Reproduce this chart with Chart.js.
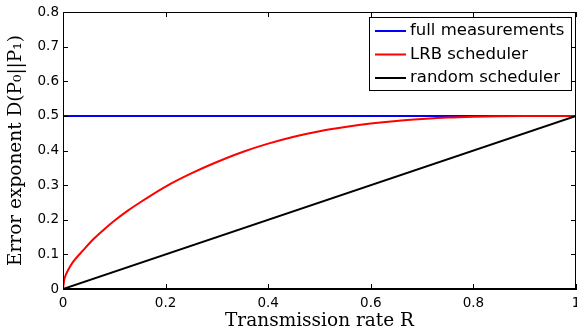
<!DOCTYPE html>
<html>
<head>
<meta charset="utf-8">
<script src="https://cdn.jsdelivr.net/npm/chart.js@4.4.1/dist/chart.umd.min.js"></script>
<style>
html,body{margin:0;padding:0;background:#fff;overflow:hidden;}
#wrap{width:600px;height:335px;}
</style>
</head>
<body>
<div id="wrap"><canvas id="c" width="600" height="335"></canvas></div>
<script>
// ---- data ----
const seriesNames = ['full measurements', 'LRB scheduler', 'random scheduler'];
const seriesColors = ['#0000ff', '#ff0000', '#000000'];

const fullR = [0, 1];
const fullD = [0.5, 0.5];

const lrbR = [0, 0.0025, 0.005, 0.01, 0.02, 0.04, 0.06, 0.08, 0.1, 0.125, 0.15, 0.2, 0.25, 0.3, 0.35, 0.4, 0.45, 0.5, 0.55, 0.6, 0.65, 0.7, 0.75, 0.8, 0.85, 0.9, 1.0];
const lrbD = [0, 0.027, 0.039, 0.055, 0.079, 0.113, 0.145, 0.172, 0.197, 0.225, 0.25, 0.296, 0.334, 0.367, 0.396, 0.42, 0.44, 0.456, 0.468, 0.478, 0.4855, 0.491, 0.4955, 0.498, 0.4993, 0.5, 0.5];

const randR = [0, 1];
const randD = [0, 0.5];

const xTicks = [0, 0.2, 0.4, 0.6, 0.8, 1];
const yTicks = [0, 0.1, 0.2, 0.3, 0.4, 0.5, 0.6, 0.7, 0.8];

const xTitle = 'Transmission rate R';
const yTitle = 'Error exponent D(P\u2080||P\u2081)';

function pts(xs, ys){ return xs.map((x,i)=>({x:x, y:ys[i]})); }

const tickFont = {family:'DejaVu Sans', size:13.5, lineHeight:1.2};
const titleFont = {family:'DejaVu Serif', size:18.5, lineHeight:1.2};

const boxPlugin = {
  id:'boxPlugin',
  afterDraw(chart){
    const ctx = chart.ctx;
    const a = chart.chartArea;
    const xs = chart.scales.x, ys = chart.scales.y;
    ctx.save();
    ctx.strokeStyle = '#000';
    ctx.lineWidth = 1;
    // box
    ctx.strokeRect(Math.round(a.left)+0.5, Math.round(a.top)+0.5, Math.round(a.right-a.left)-1, Math.round(a.bottom-a.top)-1);
    // inner ticks
    const tl = 5;
    ctx.beginPath();
    xTicks.forEach(v=>{
      const px = Math.round(xs.getPixelForValue(v))+0.5;
      ctx.moveTo(px, a.bottom); ctx.lineTo(px, a.bottom-tl);
      ctx.moveTo(px, a.top); ctx.lineTo(px, a.top+tl);
    });
    yTicks.forEach(v=>{
      const py = Math.round(ys.getPixelForValue(v))+0.5;
      ctx.moveTo(a.left, py); ctx.lineTo(a.left+tl, py);
      ctx.moveTo(a.right, py); ctx.lineTo(a.right-tl, py);
    });
    ctx.stroke();

    // legend
    const fs = 16.5;
    ctx.font = fs + 'px "DejaVu Sans"';
    let tw = 0;
    chart.data.datasets.forEach(d=>{ tw = Math.max(tw, ctx.measureText(d.label).width); });
    const lineLen = 31, padL = 6, gap = 4, padR = 7, rowH = 23.5, padT = 14;
    const bw = padL + lineLen + gap + tw + padR;
    const bh = 73;
    const bx = Math.round(a.right - 5 - bw);
    const by = Math.round(a.top + 5);
    ctx.fillStyle = '#fff';
    ctx.fillRect(bx, by, bw, bh);
    ctx.strokeRect(bx+0.5, by+0.5, Math.round(bw), bh);
    ctx.textBaseline = 'middle';
    ctx.textAlign = 'left';
    chart.data.datasets.forEach((d,i)=>{
      const yy = by + padT + i*rowH;
      ctx.strokeStyle = d.borderColor;
      ctx.lineWidth = 2;
      ctx.beginPath();
      ctx.moveTo(bx+padL, yy); ctx.lineTo(bx+padL+lineLen, yy);
      ctx.stroke();
      ctx.fillStyle = '#000';
      ctx.fillText(d.label, bx+padL+lineLen+gap, yy);
    });
    ctx.restore();
  }
};

new Chart(document.getElementById('c'), {
  type:'line',
  data:{
    datasets:[
      {label:seriesNames[0], data:pts(fullR, fullD), borderColor:seriesColors[0], borderWidth:2, pointRadius:0, order:3},
      {label:seriesNames[1], data:pts(lrbR, lrbD), borderColor:seriesColors[1], borderWidth:2, pointRadius:0, cubicInterpolationMode:'monotone', order:2},
      {label:seriesNames[2], data:pts(randR, randD), borderColor:seriesColors[2], borderWidth:2, pointRadius:0, order:1}
    ]
  },
  options:{
    responsive:false,
    animation:false,
    devicePixelRatio:1,
    layout:{padding:{left:0, right:24, top:9, bottom:0}},
    plugins:{legend:{display:false}, tooltip:{enabled:false}},
    scales:{
      x:{
        type:'linear', min:0, max:1,
        afterBuildTicks(s){ s.ticks = xTicks.map(v=>({value:v})); },
        afterFit(s){ s.height = 46; },
        grid:{display:false, drawTicks:false},
        border:{display:true, color:'#000', width:1},
        ticks:{color:'#000', font:tickFont, padding:6, maxRotation:0, autoSkip:false,
               callback:(v)=>String(v)},
        title:{display:true, text:xTitle, color:'#000', font:titleFont, padding:{top:0,bottom:3}}
      },
      y:{
        type:'linear', min:0, max:0.8,
        afterBuildTicks(s){ s.ticks = yTicks.map(v=>({value:v})); },
        afterFit(s){ s.width = 63; },
        grid:{display:false, drawTicks:false},
        border:{display:true, color:'#000', width:1},
        ticks:{color:'#000', font:tickFont, padding:4, autoSkip:false,
               callback:(v)=>String(Math.round(v*10)/10)},
        title:{display:true, text:yTitle, color:'#000', font:titleFont, padding:{top:5,bottom:0}}
      }
    }
  },
  plugins:[boxPlugin]
});
</script>
</body>
</html>
